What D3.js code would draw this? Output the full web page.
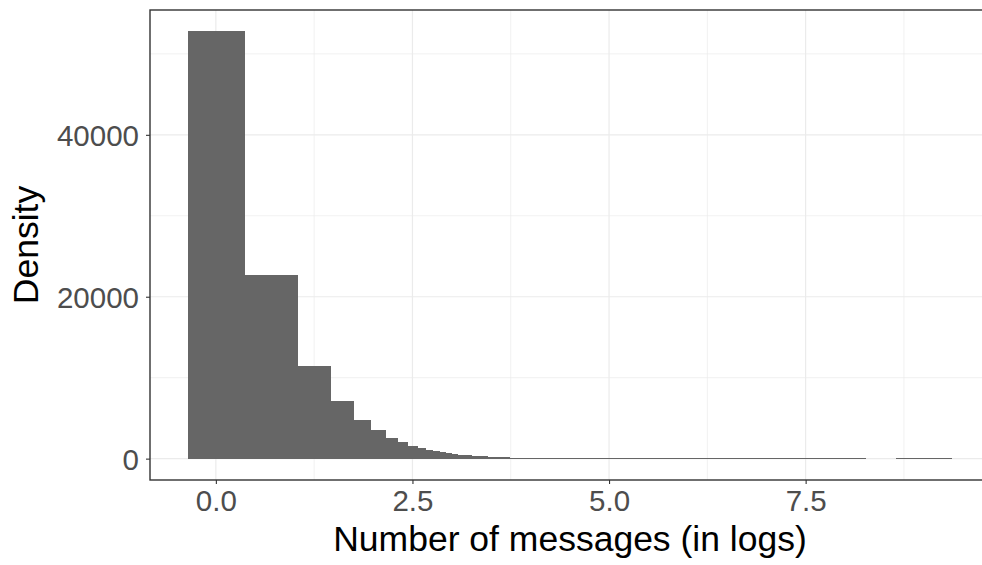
<!DOCTYPE html>
<html>
<head>
<meta charset="utf-8">
<script src="https://cdn.jsdelivr.net/npm/d3@7"></script>
<style>
  html, body { margin: 0; padding: 0; background: #fff; }
  svg { display: block; font-family: "Liberation Sans", Arial, sans-serif; }
</style>
</head>
<body>
<div id="chart"></div>
<script>
// histogram bins (log scale)
const binLeft  = [-0.352, 0.360, 1.042, 1.453, 1.745, 1.961, 2.152, 2.304, 2.431, 2.559,
                  2.660, 2.749, 2.838, 2.915, 2.991, 3.067, 3.245, 3.449, 3.728, 8.647];
const binRight = [ 0.360, 1.042, 1.453, 1.745, 1.961, 2.152, 2.304, 2.431, 2.559, 2.660,
                   2.749, 2.838, 2.915, 2.991, 3.067, 3.245, 3.449, 3.728, 8.266, 9.359];
const counts   = [52780, 22660, 11430, 7110, 4760, 3530, 2540, 2050, 1555, 1310,
                  1060, 940, 815, 690, 570, 445, 320, 200, 110, 110];

const xTicks = [0, 2.5, 5, 7.5];
const xMinor = [1.25, 3.75, 6.25, 8.75];
const yTicks = [0, 20000, 40000];
const yMinor = [10000, 30000, 50000];

const xTitle = 'Number of messages (in logs)';
const yTitle = 'Density';

const W = 982, H = 565;
const panel = { left: 150, top: 10, right: 990, bottom: 480 };

const svg = d3.select('#chart').append('svg')
  .attr('width', W).attr('height', H)
  .attr('viewBox', `0 0 ${W} ${H}`);

// ggplot-style 5% expansion
const xLo = d3.min(binLeft), xHi = d3.max(binRight);
const xPad = (xHi - xLo) * 0.05;
const x = d3.scaleLinear().domain([xLo - xPad, xHi + xPad]).range([panel.left, panel.right]);
const yMax = d3.max(counts);
const y = d3.scaleLinear().domain([-yMax * 0.05, yMax * 1.05]).range([panel.bottom, panel.top]);

svg.append('defs').append('clipPath').attr('id', 'pclip')
  .append('rect')
  .attr('x', panel.left).attr('y', panel.top)
  .attr('width', panel.right - panel.left).attr('height', panel.bottom - panel.top);

const g = svg.append('g').attr('clip-path', 'url(#pclip)');
const grid = '#EBEBEB';

// minor grid
g.selectAll('line.ymin').data(yMinor).join('line')
  .attr('x1', panel.left).attr('x2', panel.right)
  .attr('y1', (d) => y(d)).attr('y2', (d) => y(d))
  .attr('stroke', grid).attr('stroke-width', 0.7);
g.selectAll('line.xmin').data(xMinor).join('line')
  .attr('y1', panel.top).attr('y2', panel.bottom)
  .attr('x1', (d) => x(d)).attr('x2', (d) => x(d))
  .attr('stroke', grid).attr('stroke-width', 0.7);
// major grid
g.selectAll('line.ymaj').data(yTicks).join('line')
  .attr('x1', panel.left).attr('x2', panel.right)
  .attr('y1', (d) => y(d)).attr('y2', (d) => y(d))
  .attr('stroke', grid).attr('stroke-width', 1.2);
g.selectAll('line.xmaj').data(xTicks).join('line')
  .attr('y1', panel.top).attr('y2', panel.bottom)
  .attr('x1', (d) => x(d)).attr('x2', (d) => x(d))
  .attr('stroke', grid).attr('stroke-width', 1.2);

// bars
const bins = counts.map((c, i) => ({ x0: binLeft[i], x1: binRight[i], n: c }));
g.append('g').attr('shape-rendering', 'crispEdges')
  .selectAll('rect.bar').data(bins).join('rect')
  .attr('class', 'bar')
  .attr('x', (d) => x(d.x0))
  .attr('width', (d) => x(d.x1) - x(d.x0) + 0.5)
  .attr('y', (d) => y(d.n))
  .attr('height', (d) => Math.max(1, y(0) - y(d.n)))
  .attr('fill', '#666666');

// panel border
svg.append('rect')
  .attr('x', panel.left).attr('y', panel.top)
  .attr('width', panel.right - panel.left).attr('height', panel.bottom - panel.top)
  .attr('fill', 'none').attr('stroke', '#333333').attr('stroke-width', 1.4);

// axes
const tickLen = 4;
const xAxis = svg.append('g').attr('transform', `translate(0,${panel.bottom})`)
  .call(d3.axisBottom(x).tickValues(xTicks).tickFormat(d3.format('.1f')).tickSize(tickLen).tickPadding(6));
const yAxis = svg.append('g').attr('transform', `translate(${panel.left},0)`)
  .call(d3.axisLeft(y).tickValues(yTicks).tickFormat(d3.format('d')).tickSize(tickLen).tickPadding(7));
[xAxis, yAxis].forEach((a) => {
  a.select('.domain').remove();
  a.selectAll('.tick line').attr('stroke', '#333333').attr('stroke-width', 1.1);
  a.selectAll('.tick text').attr('fill', '#4D4D4D')
    .style('font-family', '"Liberation Sans", Arial, sans-serif').style('font-size', '29.5px');
});
yAxis.selectAll('.tick text').attr('dy', '0.36em');

// titles
svg.append('text')
  .attr('x', (panel.left + panel.right) / 2).attr('y', 551)
  .attr('text-anchor', 'middle').attr('fill', '#000')
  .style('font-size', '35.5px')
  .text(xTitle);
svg.append('text')
  .attr('transform', `translate(38,${(panel.top + panel.bottom) / 2}) rotate(-90)`)
  .attr('text-anchor', 'middle').attr('fill', '#000')
  .style('font-size', '35.5px')
  .text(yTitle);
</script>
</body>
</html>
